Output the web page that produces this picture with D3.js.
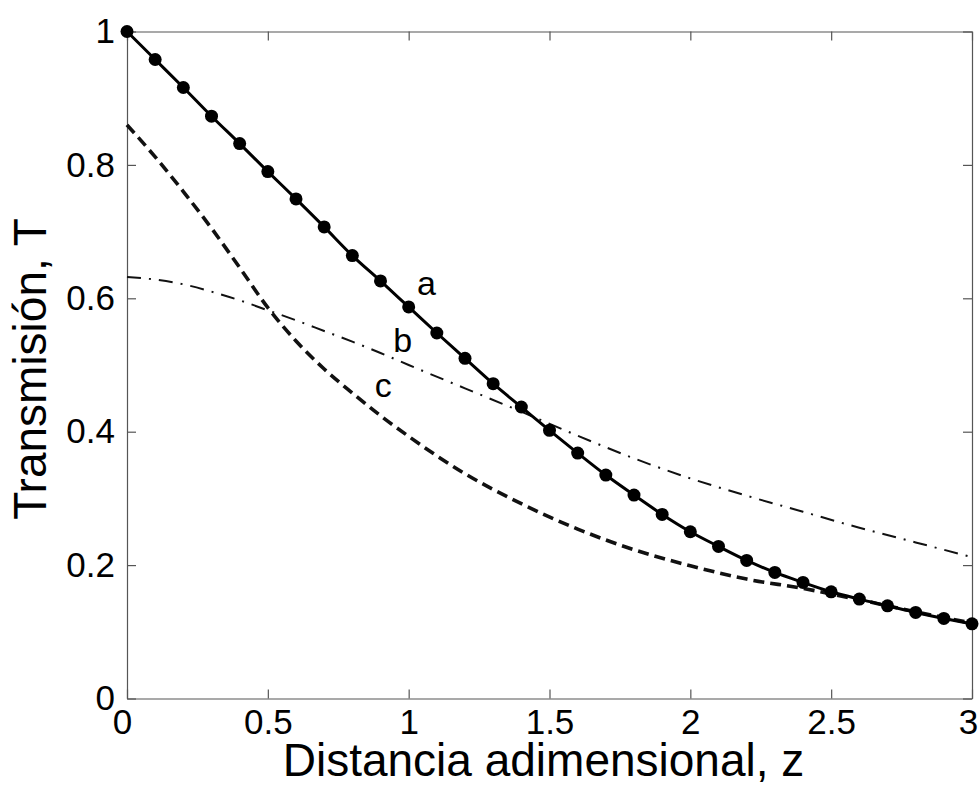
<!DOCTYPE html>
<html>
<head>
<meta charset="utf-8">
<script src="https://cdn.jsdelivr.net/npm/d3@7"></script>
<style>
  html, body { margin: 0; padding: 0; background: #fff; }
  svg { display: block; font-family: "Liberation Sans", Arial, sans-serif; }
</style>
</head>
<body>
<div id="chart"></div>
<script>
// tick values and labels
const xTicks = [0, 0.5, 1, 1.5, 2, 2.5, 3];
const xTickLabels = ["0", "0.5", "1", "1.5", "2", "2.5", "3"];
const yTicks = [0, 0.2, 0.4, 0.6, 0.8, 1];
const yTickLabels = ["0", "0.2", "0.4", "0.6", "0.8", "1"];

// curve a (solid with markers)
const zDots = [0, 0.1, 0.2, 0.3, 0.4, 0.5, 0.6, 0.7, 0.8, 0.9, 1.0,
  1.1, 1.2, 1.3, 1.4, 1.5, 1.6, 1.7, 1.8, 1.9, 2.0,
  2.1, 2.2, 2.3, 2.4, 2.5, 2.6, 2.7, 2.8, 2.9, 3.0];
const curveA = [1.0, 0.958, 0.916, 0.873, 0.832, 0.790, 0.749, 0.707, 0.664, 0.626, 0.587,
  0.548, 0.510, 0.472, 0.437, 0.402, 0.368, 0.335, 0.305, 0.276, 0.250,
  0.228, 0.207, 0.189, 0.174, 0.160, 0.149, 0.139, 0.129, 0.120, 0.112];

// curves b (dash-dot) and c (dashed)
const zCurves = [0, 0.1, 0.2, 0.3, 0.4, 0.5, 0.6, 0.7, 0.8, 0.9, 1.0,
  1.2, 1.4, 1.6, 1.8, 2.0, 2.2, 2.4, 2.6, 2.8, 3.0];
const curveB = [0.632, 0.628, 0.621, 0.610, 0.597, 0.582, 0.567, 0.551, 0.535, 0.518, 0.500,
  0.465, 0.430, 0.394, 0.360, 0.330, 0.304, 0.280, 0.256, 0.234, 0.212];
const curveC = [0.860, 0.812, 0.760, 0.705, 0.646, 0.586, 0.536, 0.494, 0.458, 0.424, 0.393,
  0.337, 0.292, 0.254, 0.223, 0.199, 0.179, 0.165, 0.148, 0.130, 0.113];

const curveLabels = [
  { text: "a", z: 1.03, t: 0.605 },
  { text: "b", z: 0.945, t: 0.52 },
  { text: "c", z: 0.88, t: 0.452 }
];

const width = 980;
const height = 787;
const marginLeft = 127;
const marginRight = 8;
const marginTop = 31.5;
const marginBottom = 88.5;

const tickFontSize = 35;
const xTitleSize = 46;
const yTitleSize = 46;
const frameColor = "#555";

const svg = d3.create("svg")
  .attr("viewBox", [0, 0, width, height])
  .attr("width", width)
  .attr("height", height);

const x = d3.scaleLinear()
  .domain([0, 3])
  .range([marginLeft, width - marginRight]);

const y = d3.scaleLinear()
  .domain([0, 1])
  .range([height - marginBottom, marginTop]);

function styleAxis(g) {
  g.select(".domain").attr("stroke", frameColor).attr("stroke-width", 1.2);
  g.selectAll(".tick line").attr("stroke", frameColor).attr("stroke-width", 1.2);
  g.selectAll(".tick text")
    .attr("fill", "#000")
    .attr("font-size", tickFontSize)
    .attr("font-family", "'Liberation Sans', Arial, sans-serif");
}

// bottom axis (ticks inward)
const xAxisG = svg.append("g")
  .attr("transform", `translate(0,${y(0)})`)
  .call(d3.axisBottom(x).tickValues(xTicks)
    .tickFormat((d, i) => xTickLabels[i])
    .tickSizeInner(-9).tickSizeOuter(0).tickPadding(11))
  .call(styleAxis);

// first and last labels sit a little inside, as in the original
xAxisG.selectAll(".tick text")
  .attr("dx", (d) => (d === 0 ? -5 : d === 3 ? -4 : 0));

// top axis
svg.append("g")
  .attr("transform", `translate(0,${y(1)})`)
  .call(d3.axisTop(x).tickValues(xTicks).tickFormat("")
    .tickSizeInner(-9).tickSizeOuter(0))
  .call(styleAxis);

// left axis
svg.append("g")
  .attr("transform", `translate(${x(0)},0)`)
  .call(d3.axisLeft(y).tickValues(yTicks)
    .tickFormat((d, i) => yTickLabels[i])
    .tickSizeInner(-9).tickSizeOuter(0).tickPadding(12))
  .call(styleAxis);

// right axis
svg.append("g")
  .attr("transform", `translate(${x(3)},0)`)
  .call(d3.axisRight(y).tickValues(yTicks).tickFormat("")
    .tickSizeInner(-9).tickSizeOuter(0))
  .call(styleAxis);

const line = d3.line()
  .curve(d3.curveMonotoneX)
  .x((d) => x(d[0]))
  .y((d) => y(d[1]));

const dataA = zDots.map((z, i) => [z, curveA[i]]);
const dataB = zCurves.map((z, i) => [z, curveB[i]]);
const dataC = zCurves.map((z, i) => [z, curveC[i]]);

// c: dashed
svg.append("path")
  .datum(dataC)
  .attr("fill", "none")
  .attr("stroke", "#111")
  .attr("stroke-width", 3.6)
  .attr("stroke-dasharray", "11,6")
  .attr("d", line);

// b: dash-dot
svg.append("path")
  .datum(dataB)
  .attr("fill", "none")
  .attr("stroke", "#111")
  .attr("stroke-width", 2)
  .attr("stroke-dasharray", "14,8,2,8")
  .attr("d", line);

// a: solid with markers
svg.append("path")
  .datum(dataA)
  .attr("fill", "none")
  .attr("stroke", "#000")
  .attr("stroke-width", 3)
  .attr("d", line);

svg.append("g")
  .selectAll("circle")
  .data(dataA)
  .join("circle")
  .attr("cx", (d) => x(d[0]))
  .attr("cy", (d) => y(d[1]))
  .attr("r", 6.5)
  .attr("fill", "#000");

// curve labels
svg.append("g")
  .selectAll("text")
  .data(curveLabels)
  .join("text")
  .attr("x", (d) => x(d.z))
  .attr("y", (d) => y(d.t))
  .attr("font-size", 34)
  .attr("fill", "#000")
  .text((d) => d.text);

// axis titles
svg.append("text")
  .attr("x", (x(0) + x(3)) / 2 - 6)
  .attr("y", 776)
  .attr("text-anchor", "middle")
  .attr("font-size", xTitleSize)
  .attr("fill", "#000")
  .text("Distancia adimensional, z");

svg.append("text")
  .attr("transform", `translate(46,${(y(0) + y(1)) / 2 + 4}) rotate(-90)`)
  .attr("text-anchor", "middle")
  .attr("font-size", yTitleSize)
  .attr("fill", "#000")
  .text("Transmisión, T");

document.querySelector("#chart").appendChild(svg.node());
</script>
</body>
</html>
